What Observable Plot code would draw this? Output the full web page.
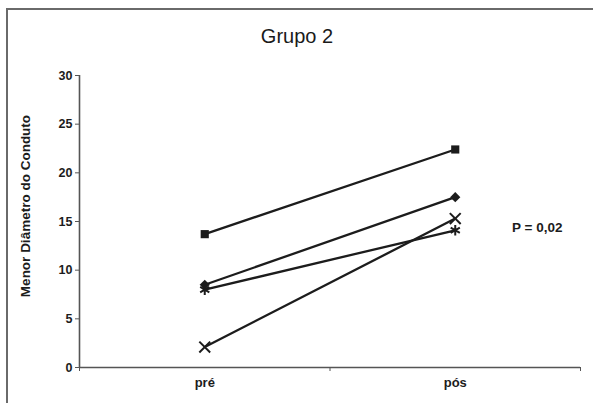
<!DOCTYPE html>
<html>
<head>
<meta charset="utf-8">
<script src="https://cdn.jsdelivr.net/npm/d3@7"></script>
<script src="https://cdn.jsdelivr.net/npm/@observablehq/plot@0.6"></script>
<style>
  html, body { margin: 0; padding: 0; background: #fff; overflow: hidden; }
  #wrap { position: relative; width: 593px; height: 403px; overflow: hidden; font-family: "Liberation Sans", Arial, sans-serif; }
  #border { position: absolute; left: 6px; top: 8px; width: 620px; height: 420px; border-left: 2px solid #6a6a6a; border-top: 2px solid #6a6a6a; box-sizing: border-box; }
  #title { position: absolute; left: 0; width: 594px; top: 25px; text-align: center; font-size: 20px; color: #1a1a1a; }
  #ylabel { position: absolute; left: 25px; top: 206px; width: 0; height: 0; }
  #ylabel span { position: absolute; left: 0; top: 0; transform: translate(-50%, -50%) rotate(-90deg); white-space: nowrap; font-size: 13.5px; font-weight: bold; color: #1c1c1c; }
  #chart { position: absolute; left: 0; top: 0; }
</style>
</head>
<body>
<div id="wrap">
  <div id="border"></div>
  <div id="chart"></div>
  <div id="title">Grupo 2</div>
  <div id="ylabel"><span></span></div>
</div>
<script>
const categories = ["pré", "pós"];
const seriesNames = ["quadrado", "losango", "asterisco", "xis"];
const seriesSymbols = ["square", "diamond2", "asterisk", "times"];
const valuesQuadrado = [13.7, 22.4];
const valuesLosango = [8.5, 17.5];
const valuesAsterisco = [8.0, 14.1];
const valuesXis = [2.1, 15.3];
const yTicks = [0, 5, 10, 15, 20, 25, 30];
const yLabel = "Menor Diâmetro do Conduto";
const annotation = "P = 0,02";

document.querySelector("#ylabel span").textContent = yLabel;

const allValues = [valuesQuadrado, valuesLosango, valuesAsterisco, valuesXis];
const data = [];
seriesNames.forEach((s, si) => {
  categories.forEach((c, ci) => {
    data.push({serie: s, symbol: seriesSymbols[si], cat: c, idx: ci, value: allValues[si][ci]});
  });
});

const ink = "#1c1c1c";
const fontBold = {fontWeight: "bold", fill: ink};

const plot = Plot.plot({
  width: 593,
  height: 403,
  marginLeft: 79,
  marginRight: 13,
  marginTop: 75,
  marginBottom: 36,
  style: {fontFamily: "Liberation Sans, Arial, sans-serif", background: "transparent", color: ink},
  x: {type: "linear", domain: [-0.5, categories.length - 0.5]},
  y: {domain: [0, 30]},
  marks: [
    Plot.ruleY([0], {stroke: "#555", strokeWidth: 1.6}),
    Plot.ruleX([-0.5], {stroke: "#555", strokeWidth: 1.6}),
    Plot.axisY({ticks: yTicks, tickSize: 4, tickPadding: 3, fontSize: 12.5, fontWeight: "bold", stroke: "#555", label: null}),
    Plot.axisX({ticks: d3.range(categories.length + 1).map(i => i - 0.5), tickSize: 4, tickFormat: () => "", stroke: "#555", label: null}),
    Plot.axisX({ticks: d3.range(categories.length), tickSize: 0, tickPadding: 10, tickFormat: i => categories[i], fontSize: 13, fontWeight: "bold", label: null}),
    Plot.text([annotation], {frameAnchor: "right", dx: -18, dy: 6, textAnchor: "end", fontSize: 13.5, ...fontBold}),
    Plot.line(data, {x: "idx", y: "value", z: "serie", stroke: ink, strokeWidth: 2.3}),
    Plot.dot(data.filter(d => d.symbol === "square" || d.symbol === "diamond2"), {x: "idx", y: "value", symbol: "symbol", fill: ink, r: 4.6}),
    Plot.dot(data.filter(d => d.symbol === "asterisk" || d.symbol === "times"), {x: "idx", y: "value", symbol: "symbol", stroke: ink, strokeWidth: 2, r: 5})
  ]
});
document.getElementById("chart").appendChild(plot);
</script>
</body>
</html>
